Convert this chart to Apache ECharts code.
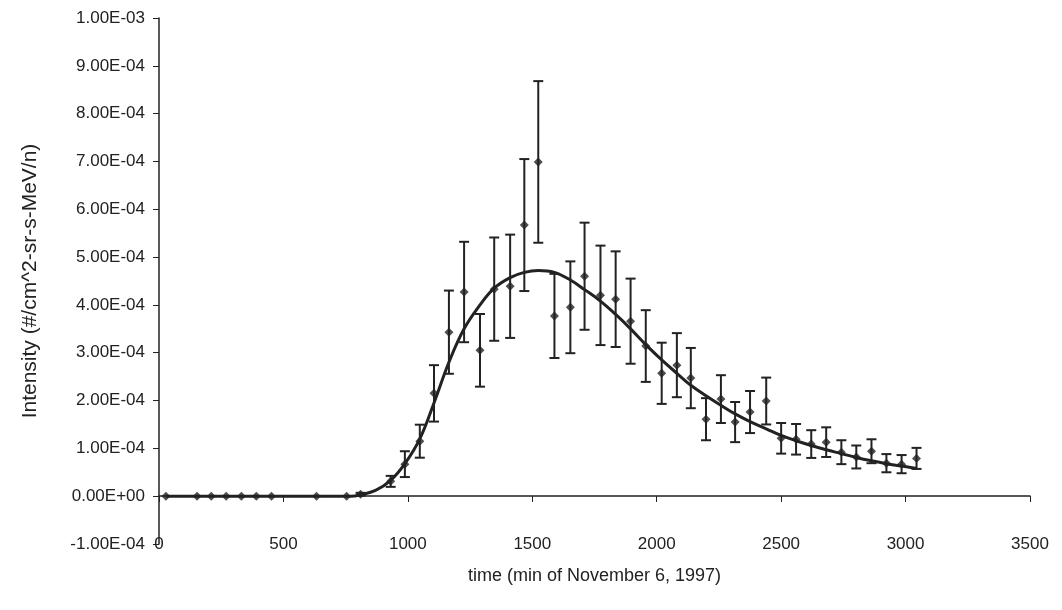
<!DOCTYPE html>
<html>
<head>
<meta charset="utf-8">
<script src="https://cdn.jsdelivr.net/npm/echarts@6/dist/echarts.min.js"></script>
<style>
  html, body { margin: 0; padding: 0; background: #fff; }
  #chart { width: 1062px; height: 610px; }
</style>
</head>
<body>
<div id="chart"></div>
<script>
// measured points (time in min, intensity, +/- error)
var times = [28, 153, 210, 270, 331, 391, 452, 633, 754, 810, 931, 988, 1048, 1105, 1165, 1226, 1290, 1347,
  1411, 1468, 1524, 1589, 1653, 1710, 1774, 1835, 1895, 1956, 2020, 2081, 2137, 2198, 2258, 2315, 2375,
  2440, 2500, 2560, 2621, 2681, 2742, 2802, 2863, 2923, 2984, 3044];
var intensity = [0, 0, 0, 0, 0, 0, 0, 0, 0, 4e-6, 3.1e-5, 6.7e-5, 1.15e-4, 2.15e-4, 3.43e-4, 4.27e-4, 3.05e-4, 4.33e-4,
  4.39e-4, 5.67e-4, 6.99e-4, 3.77e-4, 3.95e-4, 4.6e-4, 4.2e-4, 4.12e-4, 3.66e-4, 3.14e-4, 2.57e-4, 2.74e-4, 2.47e-4, 1.61e-4, 2.03e-4, 1.55e-4, 1.76e-4,
  1.99e-4, 1.21e-4, 1.19e-4, 1.09e-4, 1.13e-4, 9.2e-5, 8.2e-5, 9.4e-5, 6.9e-5, 6.7e-5, 7.9e-5];
var errors = [0, 0, 0, 0, 0, 0, 0, 0, 0, 3e-6, 1.15e-5, 2.7e-5, 3.45e-5, 5.9e-5, 8.7e-5, 1.05e-4, 7.6e-5, 1.08e-4,
  1.08e-4, 1.38e-4, 1.69e-4, 8.8e-5, 9.6e-5, 1.12e-4, 1.04e-4, 1.0e-4, 8.9e-5, 7.5e-5, 6.4e-5, 6.7e-5, 6.3e-5, 4.4e-5, 5.0e-5, 4.2e-5, 4.4e-5,
  4.9e-5, 3.2e-5, 3.2e-5, 2.9e-5, 3.1e-5, 2.5e-5, 2.4e-5, 2.5e-5, 1.9e-5, 1.9e-5, 2.2e-5];

// fitted curve
var fitTimes = [28, 300, 600, 770, 810, 870, 931, 988, 1048, 1105, 1165, 1226, 1290, 1347, 1411, 1468, 1524, 1589,
  1653, 1710, 1774, 1835, 1895, 1956, 2020, 2081, 2137, 2198, 2258, 2315, 2375, 2440, 2500, 2560, 2621,
  2681, 2742, 2802, 2863, 2923, 2984, 3044];
var fitValues = [0, 0, 0, 0, 3e-6, 1.2e-5, 3.3e-5, 6.8e-5, 1.2e-4, 1.95e-4, 2.8e-4, 3.5e-4, 4.0e-4, 4.35e-4, 4.57e-4, 4.68e-4, 4.72e-4, 4.68e-4,
  4.52e-4, 4.32e-4, 4.08e-4, 3.8e-4, 3.5e-4, 3.17e-4, 2.85e-4, 2.57e-4, 2.32e-4, 2.1e-4, 1.9e-4, 1.72e-4, 1.56e-4, 1.41e-4, 1.27e-4, 1.16e-4, 1.06e-4,
  9.7e-5, 8.9e-5, 8.1e-5, 7.4e-5, 6.8e-5, 6.3e-5, 5.8e-5];

var ink = '#222';
var font = '"Liberation Sans", Arial, sans-serif';

// Excel style 0.00E+00
function sci(v) {
  if (Math.abs(v) < 1e-12) return '0.00E+00';
  var e = Math.floor(Math.log10(Math.abs(v)) + 1e-9);
  var m = v / Math.pow(10, e);
  var s = Math.abs(e) < 10 ? '0' + Math.abs(e) : '' + Math.abs(e);
  return m.toFixed(2) + 'E' + (e < 0 ? '-' : '+') + s;
}

var pts = times.map(function (t, i) { return [t, intensity[i]]; });
var bars = [];
times.forEach(function (t, i) {
  if (errors[i] > 0) bars.push([t, intensity[i] - errors[i], intensity[i] + errors[i]]);
});
var fit = fitTimes.map(function (t, i) { return [t, fitValues[i]]; });

var chart = echarts.init(document.getElementById('chart'));
var option = {
  backgroundColor: '#fff',
  animation: false,
  grid: { left: 159, right: 32, top: 18, bottom: 66, containLabel: false, outerBoundsMode: 'none' },
  xAxis: {
    type: 'value',
    min: 0, max: 3500, interval: 500,
    offset: -48,
    name: 'time (min of November 6, 1997)',
    nameLocation: 'middle',
    nameGap: 71,
    nameTextStyle: { fontFamily: font, fontSize: 18, color: ink },
    axisLine: { onZero: false, lineStyle: { color: ink, width: 1.5 } },
    axisTick: { show: true, length: 6, lineStyle: { color: ink } },
    axisLabel: { margin: 40, fontFamily: font, fontSize: 17, color: ink, formatter: function (v) { return '' + v; } },
    splitLine: { show: false }
  },
  yAxis: {
    type: 'value',
    min: -1e-4, max: 1e-3, interval: 1e-4,
    name: 'Intensity (#/cm^2-sr-s-MeV/n)',
    nameLocation: 'middle',
    nameGap: 118,
    nameTextStyle: { fontFamily: font, fontSize: 21, color: ink },
    axisLine: { show: true, lineStyle: { color: ink, width: 1.5 } },
    axisTick: { show: true, length: 6, lineStyle: { color: ink } },
    axisLabel: { margin: 14, fontFamily: font, fontSize: 17, color: ink, formatter: sci },
    splitLine: { show: false }
  },
  series: [
    {
      type: 'custom',
      data: bars,
      encode: { x: 0, y: [1, 2] },
      z: 2,
      renderItem: function (params, api) {
        var x = api.value(0);
        var top = api.coord([x, api.value(2)]);
        var bot = api.coord([x, api.value(1)]);
        var w = 5;
        var st = { stroke: ink, lineWidth: 2 };
        return {
          type: 'group',
          children: [
            { type: 'line', shape: { x1: top[0], y1: top[1], x2: bot[0], y2: bot[1] }, style: st },
            { type: 'line', shape: { x1: top[0] - w, y1: top[1], x2: top[0] + w, y2: top[1] }, style: st },
            { type: 'line', shape: { x1: bot[0] - w, y1: bot[1], x2: bot[0] + w, y2: bot[1] }, style: st }
          ]
        };
      }
    },
    {
      type: 'line',
      data: fit,
      smooth: 0.4,
      showSymbol: false,
      z: 3,
      lineStyle: { color: ink, width: 3 }
    },
    {
      type: 'scatter',
      data: pts,
      symbol: 'diamond',
      symbolSize: 9,
      z: 4,
      itemStyle: { color: ink }
    }
  ]
};
chart.setOption(option);
</script>
</body>
</html>
